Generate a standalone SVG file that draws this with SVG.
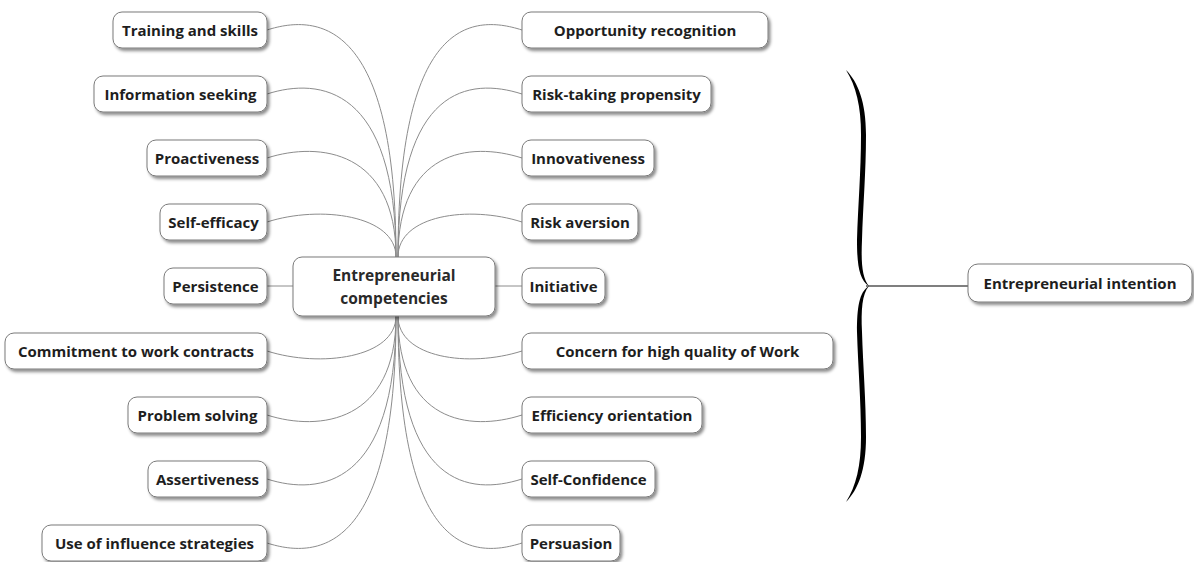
<svg xmlns="http://www.w3.org/2000/svg" width="1194" height="562" viewBox="0 0 1194 562">
  <defs>
    <filter id="shadow" x="-10%" y="-20%" width="130%" height="160%">
      <feDropShadow dx="2" dy="2.5" stdDeviation="1.4" flood-color="#000" flood-opacity="0.45"/>
    </filter>
  </defs>
  <style>
    .box { fill: #fff; stroke: #7a7a7a; stroke-width: 1; filter: url(#shadow); }
    .lbl { font-family: "Open Sans", "Liberation Sans", sans-serif; font-size: 15px; font-weight: 700; fill: #1e1e1e; text-anchor: middle; dominant-baseline: central; }
    .main { font-size: 15.5px; fill: #2a2a2a; }
    .link { fill: none; stroke: #8c8c8c; stroke-width: 1; }
    .brace { fill: #000; }
    .bar { stroke: #000; stroke-width: 1.2; }
  </style>

  <rect width="1194" height="562" fill="#fff"/>

  <!-- connectors between the central topic and its branches -->
  <g id="connectors">
    <!-- left, upper -->
    <path class="link" d="M267,30 C320,13 396,23 396,257"/>
    <path class="link" d="M267,94 C320,77 396,87 396,257"/>
    <path class="link" d="M267,158 C320,141 396,151 396,257"/>
    <path class="link" d="M267,222 C320,205 396,215 396,257"/>
    <path class="link" d="M267,286 L293,286"/>
    <!-- left, lower -->
    <path class="link" d="M267,351 C320,368 396,358 396,316"/>
    <path class="link" d="M267,415 C320,432 396,422 396,316"/>
    <path class="link" d="M267,479 C320,496 396,486 396,316"/>
    <path class="link" d="M267,543 C320,560 396,550 396,316"/>
    <!-- right, upper -->
    <path class="link" d="M522,30 C469,13 398,23 398,257"/>
    <path class="link" d="M522,94 C469,77 398,87 398,257"/>
    <path class="link" d="M522,158 C469,141 398,151 398,257"/>
    <path class="link" d="M522,222 C469,205 398,215 398,257"/>
    <path class="link" d="M495,286 L522,286"/>
    <!-- right, lower -->
    <path class="link" d="M522,351 C469,368 398,358 398,316"/>
    <path class="link" d="M522,415 C469,432 398,422 398,316"/>
    <path class="link" d="M522,479 C469,496 398,486 398,316"/>
    <path class="link" d="M522,543 C469,560 398,550 398,316"/>
    <!-- brace to the outcome -->
    <line class="bar" x1="866" y1="286" x2="968" y2="286"/>
  </g>

  <!-- curly brace grouping all competencies -->
  <g id="brace">
    <path class="brace" d="M846,70 C858,82 866,102 866,135 C866,172 863,206 862,240 C861,262 862,278 869,286 C859,280 857,264 857,240 C858,206 861,172 861,135 C861,106 856,86 846,70 Z"/>
    <path class="brace" d="M846,502 C858,490 866,470 866,437 C866,400 863,366 862,332 C861,310 862,294 869,286 C859,292 857,308 857,332 C858,366 861,400 861,437 C861,466 856,486 846,502 Z"/>
  </g>

  <!-- central topic -->
  <g id="center">
    <rect class="box" x="293" y="257" width="202" height="59" rx="9"/>
    <text class="lbl main" x="394" y="275">Entrepreneurial</text>
    <text class="lbl main" x="394" y="298">competencies</text>
  </g>

  <!-- left branches -->
  <g id="training">
    <rect class="box" x="113" y="12" width="154" height="36" rx="9"/>
    <text class="lbl" x="190" y="30">Training and skills</text>
  </g>
  <g id="information">
    <rect class="box" x="94" y="76" width="173" height="36" rx="9"/>
    <text class="lbl" x="180.5" y="94">Information seeking</text>
  </g>
  <g id="proactiveness">
    <rect class="box" x="147" y="140" width="120" height="36" rx="9"/>
    <text class="lbl" x="207" y="158">Proactiveness</text>
  </g>
  <g id="self-efficacy">
    <rect class="box" x="160" y="204" width="107" height="36" rx="9"/>
    <text class="lbl" x="213.5" y="222">Self-efficacy</text>
  </g>
  <g id="persistence">
    <rect class="box" x="164" y="268" width="103" height="36" rx="9"/>
    <text class="lbl" x="215.5" y="286">Persistence</text>
  </g>
  <g id="commitment">
    <rect class="box" x="5" y="333" width="262" height="36" rx="9"/>
    <text class="lbl" x="136" y="351">Commitment to work contracts</text>
  </g>
  <g id="problem-solving">
    <rect class="box" x="128" y="397" width="139" height="36" rx="9"/>
    <text class="lbl" x="197.5" y="415">Problem solving</text>
  </g>
  <g id="assertiveness">
    <rect class="box" x="148" y="461" width="119" height="36" rx="9"/>
    <text class="lbl" x="207.5" y="479">Assertiveness</text>
  </g>
  <g id="influence">
    <rect class="box" x="42" y="525" width="225" height="36" rx="9"/>
    <text class="lbl" x="154.5" y="543">Use of influence strategies</text>
  </g>

  <!-- right branches -->
  <g id="opportunity">
    <rect class="box" x="522" y="12" width="246" height="36" rx="9"/>
    <text class="lbl" x="645" y="30">Opportunity recognition</text>
  </g>
  <g id="risk-taking">
    <rect class="box" x="522" y="76" width="189" height="36" rx="9"/>
    <text class="lbl" x="616.5" y="94">Risk-taking propensity</text>
  </g>
  <g id="innovativeness">
    <rect class="box" x="522" y="140" width="132" height="36" rx="9"/>
    <text class="lbl" x="588" y="158">Innovativeness</text>
  </g>
  <g id="risk-aversion">
    <rect class="box" x="522" y="204" width="116" height="36" rx="9"/>
    <text class="lbl" x="580" y="222">Risk aversion</text>
  </g>
  <g id="initiative">
    <rect class="box" x="522" y="268" width="83" height="36" rx="9"/>
    <text class="lbl" x="563.5" y="286">Initiative</text>
  </g>
  <g id="quality">
    <rect class="box" x="522" y="333" width="311" height="36" rx="9"/>
    <text class="lbl" x="677.5" y="351">Concern for high quality of Work</text>
  </g>
  <g id="efficiency">
    <rect class="box" x="522" y="397" width="180" height="36" rx="9"/>
    <text class="lbl" x="612" y="415">Efficiency orientation</text>
  </g>
  <g id="self-confidence">
    <rect class="box" x="522" y="461" width="133" height="36" rx="9"/>
    <text class="lbl" x="588.5" y="479">Self-Confidence</text>
  </g>
  <g id="persuasion">
    <rect class="box" x="522" y="525" width="98" height="36" rx="9"/>
    <text class="lbl" x="571" y="543">Persuasion</text>
  </g>

  <!-- outcome -->
  <g id="intention">
    <rect class="box" x="968" y="264" width="224" height="38" rx="10"/>
    <text class="lbl" x="1080" y="283">Entrepreneurial intention</text>
  </g>
</svg>
